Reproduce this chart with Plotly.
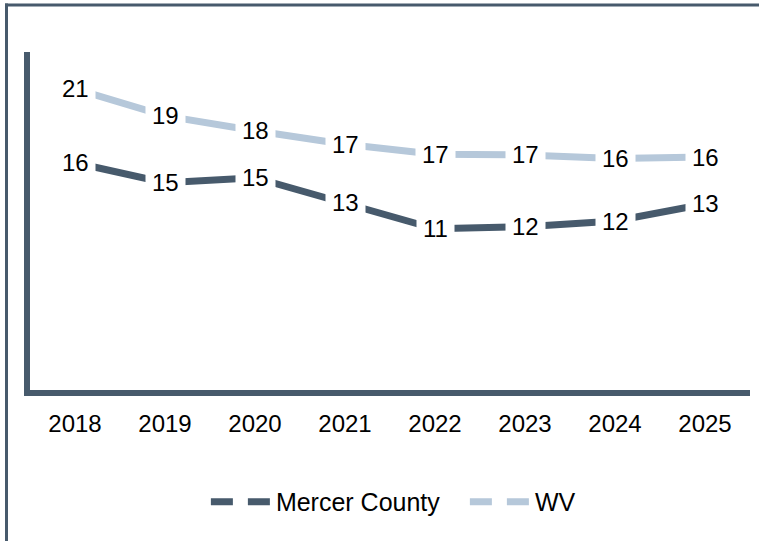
import plotly.graph_objects as go

years = ["2018", "2019", "2020", "2021", "2022", "2023", "2024", "2025"]
mercer = [16.0, 14.6, 14.95, 13.2, 11.35, 11.5, 11.9, 13.1]
wv = [21.2, 19.3, 18.25, 17.3, 16.6, 16.55, 16.3, 16.4]

DARK = "#475A6C"
LIGHT = "#B6C8DA"
FONT = "Liberation Sans, Arial, sans-serif"

W, H = 759, 541
L, R, T, B = 30, 9, 52, 151
PW = W - L - R
PH = H - T - B

fig = go.Figure()

for name, vals, col in [("Mercer County", mercer, DARK), ("WV", wv, LIGHT)]:
    fig.add_trace(go.Scatter(x=years, y=vals, mode="lines", name=name,
                             line=dict(color=col, width=7), showlegend=False,
                             hoverinfo="skip"))
    fig.add_trace(go.Scatter(x=[None], y=[None], mode="lines", name=name,
                             line=dict(color=col, width=7, dash="22px,15px"),
                             showlegend=True))
    for i, v in enumerate(vals):
        fig.add_annotation(x=i, y=v, text=f"{v:.0f}", showarrow=False,
                           xref="x", yref="y",
                           font=dict(family=FONT, size=24, color="#000000"),
                           bgcolor="#FFFFFF", borderpad=6)

def px_x(p):
    return (p - L) / PW

def px_y(p):
    return (H - B - p) / PH

# outer frame pieces (left and top borders)
fig.add_shape(type="line", xref="paper", yref="paper",
              x0=px_x(6.5), x1=px_x(6.5), y0=px_y(3.5), y1=px_y(545),
              line=dict(color=DARK, width=3))
fig.add_shape(type="line", xref="paper", yref="paper",
              x0=px_x(5), x1=px_x(765), y0=px_y(5), y1=px_y(5),
              line=dict(color=DARK, width=3))

fig.update_layout(
    width=W, height=H,
    margin=dict(l=L, r=R, t=T, b=B),
    paper_bgcolor="white", plot_bgcolor="white",
    font=dict(family=FONT, size=24, color="#000000"),
    showlegend=True,
    legend=dict(orientation="h", x=0.604, xanchor="center", y=-0.331,
                yanchor="middle", font=dict(family=FONT, size=25, color="#000000"),
                itemwidth=60, entrywidth=184, entrywidthmode="pixels",
                traceorder="normal"),
    xaxis=dict(type="category", range=[-0.5, 7.5], showgrid=False,
               showline=True, linecolor=DARK, linewidth=6, ticks="",
               tickfont=dict(family=FONT, size=24, color="#000000"),
               ticklabelstandoff=7,
               fixedrange=True, zeroline=False),
    yaxis=dict(range=[0, 23.8], showgrid=False, showline=True, linecolor=DARK,
               linewidth=6, showticklabels=False, ticks="", zeroline=False,
               fixedrange=True),
)

fig.write_html("out.html", config={"displayModeBar": False},
               post_script="document.body.style.margin='0';")
